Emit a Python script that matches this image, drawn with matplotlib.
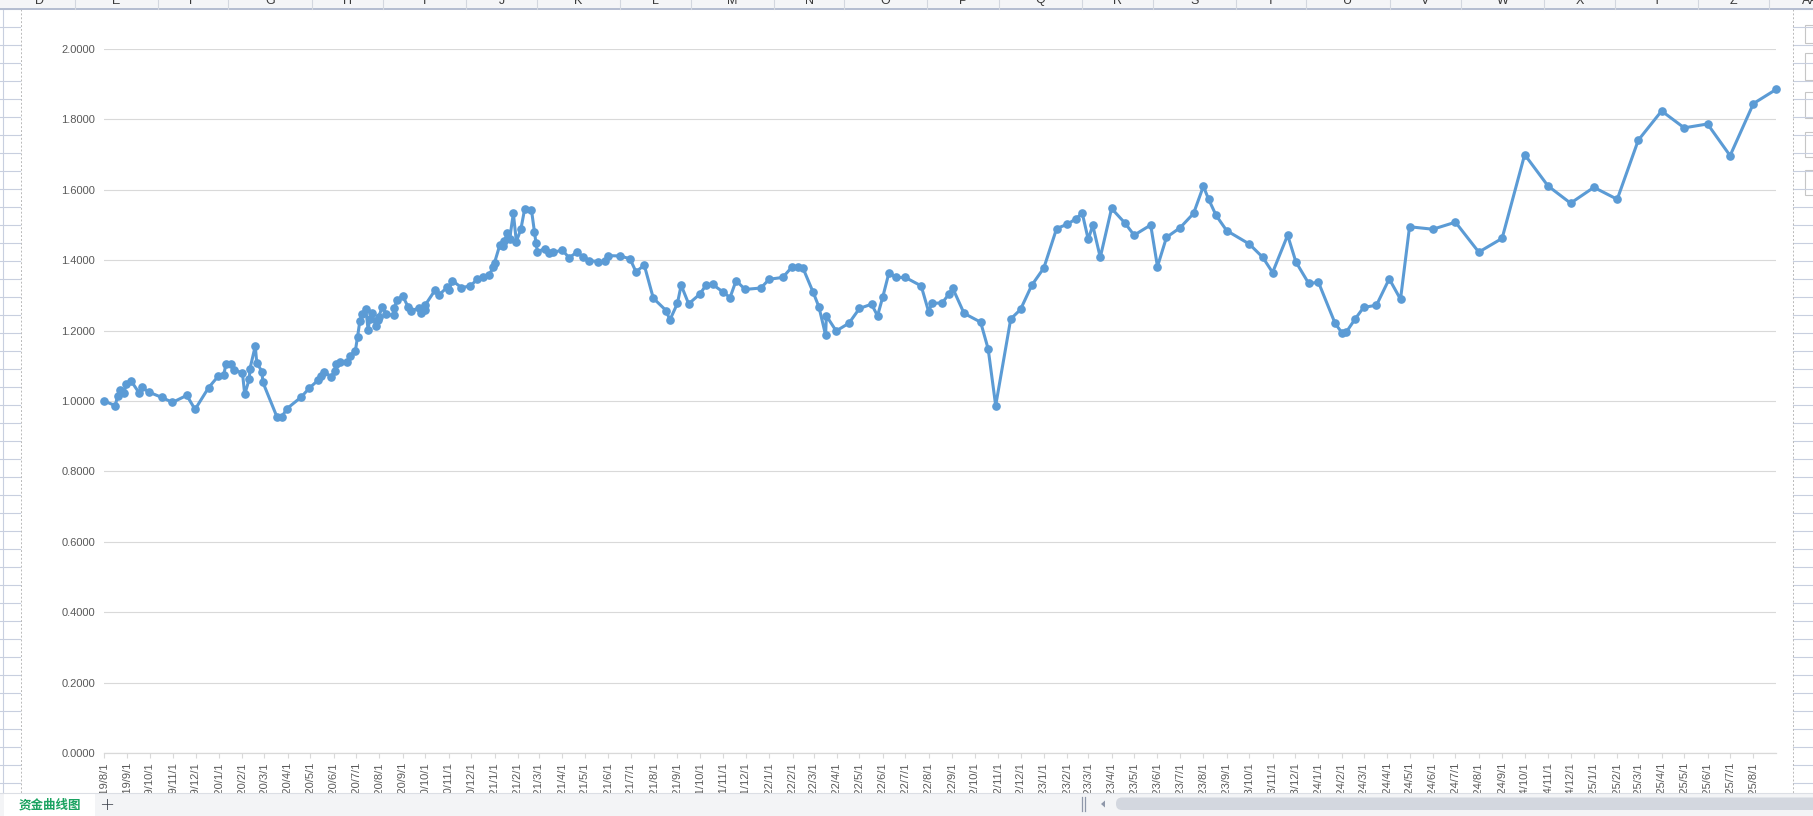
"""
Equity curve (资金曲线图) as it shows up embedded in the spreadsheet view
"""

import matplotlib

matplotlib.use("Agg")
import matplotlib.pyplot as plt
import matplotlib.dates as mdates
from matplotlib.patches import Rectangle, FancyBboxPatch
from matplotlib.ticker import FuncFormatter
import pandas as pd

FIG_W, FIG_H = 1813, 816

# x values are days after the first trading date
START_DATE = "2019-08-01"
LAST_TICK = "2025-08-01"

day_offsets = [
    0, 15, 18, 21, 27, 29, 36, 47, 50, 60, 77, 91, 110, 121, 139, 152, 159, 162, 169, 173,
    184, 187, 193, 194, 201, 203, 210, 211, 230, 236, 243, 262, 273, 285, 289, 292, 302, 307, 308, 314,
    323, 327, 334, 337, 340, 343, 348, 351, 353, 356, 361, 364, 365, 370, 375, 385, 386, 389, 397, 404,
    408, 418, 421, 426, 427, 440, 445, 456, 458, 463, 475, 487, 496, 504, 512, 517, 519, 526, 530, 532,
    536, 539, 544, 548, 554, 559, 568, 572, 574, 576, 586, 592, 597, 609, 618, 628, 637, 645, 657, 666,
    670, 686, 699, 707, 718, 730, 747, 752, 762, 767, 777, 792, 800, 809, 823, 832, 840, 852, 873, 884,
    902, 914, 922, 929, 942, 950, 959, 960, 973, 990, 1004, 1020, 1028, 1035, 1043, 1053, 1065, 1086, 1096, 1100,
    1114, 1123, 1128, 1143, 1165, 1175, 1185, 1205, 1218, 1233, 1249, 1266, 1280, 1292, 1300, 1308, 1314, 1324, 1339, 1357,
    1369, 1391, 1400, 1412, 1430, 1448, 1461, 1468, 1478, 1492, 1522, 1540, 1553, 1573, 1584, 1601, 1614, 1636, 1645, 1651,
    1663, 1674, 1691, 1708, 1723, 1735, 1766, 1796, 1827, 1858, 1888, 1919, 1949, 1980, 2011, 2039, 2070, 2100, 2131, 2161,
    2192, 2222,
]

nav_values = [
    1.000, 0.987, 1.014, 1.031, 1.024, 1.047, 1.057, 1.022, 1.039, 1.025, 1.010, 0.996, 1.016, 0.976, 1.038, 1.071, 1.073, 1.104, 1.105, 1.088,
    1.080, 1.019, 1.062, 1.092, 1.156, 1.109, 1.083, 1.054, 0.954, 0.954, 0.978, 1.011, 1.037, 1.060, 1.071, 1.083, 1.069, 1.086, 1.105, 1.110,
    1.110, 1.128, 1.142, 1.183, 1.227, 1.247, 1.260, 1.202, 1.232, 1.250, 1.214, 1.230, 1.239, 1.268, 1.247, 1.243, 1.263, 1.287, 1.298, 1.268,
    1.257, 1.263, 1.250, 1.259, 1.273, 1.315, 1.301, 1.323, 1.315, 1.342, 1.322, 1.327, 1.346, 1.351, 1.358, 1.380, 1.393, 1.443, 1.440, 1.455,
    1.476, 1.459, 1.533, 1.453, 1.488, 1.545, 1.544, 1.481, 1.450, 1.424, 1.433, 1.420, 1.422, 1.429, 1.407, 1.422, 1.410, 1.399, 1.396, 1.397,
    1.413, 1.412, 1.404, 1.367, 1.386, 1.292, 1.257, 1.230, 1.277, 1.329, 1.276, 1.304, 1.329, 1.331, 1.309, 1.294, 1.342, 1.317, 1.321, 1.346,
    1.351, 1.380, 1.380, 1.377, 1.311, 1.268, 1.187, 1.242, 1.199, 1.221, 1.263, 1.275, 1.242, 1.296, 1.363, 1.351, 1.351, 1.327, 1.253, 1.277,
    1.279, 1.304, 1.320, 1.249, 1.224, 1.148, 0.987, 1.233, 1.260, 1.329, 1.378, 1.490, 1.502, 1.518, 1.534, 1.459, 1.499, 1.408, 1.547, 1.505,
    1.471, 1.500, 1.382, 1.465, 1.492, 1.533, 1.610, 1.573, 1.527, 1.484, 1.446, 1.408, 1.365, 1.471, 1.395, 1.334, 1.337, 1.221, 1.194, 1.196,
    1.234, 1.266, 1.272, 1.347, 1.289, 1.495, 1.488, 1.508, 1.423, 1.462, 1.700, 1.611, 1.562, 1.607, 1.573, 1.741, 1.824, 1.776, 1.787, 1.697,
    1.845, 1.885,
]

y_ticks = [0.0, 0.2, 0.4, 0.6, 0.8, 1.0, 1.2, 1.4, 1.6, 1.8, 2.0]

sheet_name = "资金曲线图"
column_letters = ["D", "E", "F", "G", "H", "I", "J", "K", "L", "M", "N", "O",
                  "P", "Q", "R", "S", "T", "U", "V", "W", "X", "Y", "Z", "AA"]
# pixel edges of the spreadsheet columns (one more than letters)
column_edges = [3, 75, 158, 228, 312, 383, 466, 537, 620, 691, 774, 844, 927,
                999, 1082, 1153, 1236, 1306, 1390, 1461, 1544, 1615, 1698, 1769, 1852]

LINE_COLOR = "#5b9bd5"
GRID_COLOR = "#d9d9d9"
LABEL_COLOR = "#595959"
SHEET_LINE = "#c8cfdf"

plt.rcParams["font.family"] = ["Liberation Sans", "DejaVu Sans"]


def pixel_axes(fig, zorder):
    """Axes spanning the whole figure, in pixel coordinates (y down)"""
    pax = fig.add_axes([0, 0, 1, 1], zorder=zorder)
    pax.set_xlim(0, FIG_W)
    pax.set_ylim(FIG_H, 0)
    pax.axis("off")
    return pax


def draw_sheet_background(fig):
    """Cell grid around the chart object and the white chart area"""
    bg = pixel_axes(fig, -5)
    row_y = 9
    while row_y < 793:
        bg.plot([0, 20], [row_y, row_y], color=SHEET_LINE, lw=0.8)
        bg.plot([1793, FIG_W], [row_y, row_y], color=SHEET_LINE, lw=0.8)
        row_y += 18
    bg.plot([3, 3], [9, 793], color=SHEET_LINE, lw=0.8)
    bg.plot([20.5, 20.5], [9, 793], color="#b9b9b9", lw=0.7, ls=(0, (2, 2)))
    bg.plot([1793, 1793], [9, 793], color="#b9b9b9", lw=0.7, ls=(0, (2, 2)))
    bg.add_patch(Rectangle((21, 9), 1771, 784, facecolor="white", edgecolor="none"))

    # little chart buttons on the right edge
    for top, bottom in [(25, 43), (53, 80), (92, 118), (132, 157), (170, 195)]:
        bg.add_patch(Rectangle((1805, top), 20, bottom - top, facecolor="white",
                               edgecolor="#c6c6c6", lw=0.8))


def draw_sheet_chrome(fig):
    """Column header on top, sheet tabs and scrollbar at the bottom"""
    fg = pixel_axes(fig, 10)

    # column header
    fg.add_patch(Rectangle((0, 0), FIG_W, 9, facecolor="#f4f5f7", edgecolor="none"))
    fg.plot([0, FIG_W], [9, 9], color="#b4bdd0", lw=1.4)
    for i, letter in enumerate(column_letters):
        left, right = column_edges[i], column_edges[i + 1]
        fg.plot([right, right], [0, 9], color="#d3d7df", lw=0.8)
        fg.text((left + right) / 2, 0.5, letter, ha="center", va="center",
                fontsize=9, color="#3a3a3a")

    # sheet tab bar
    fg.add_patch(Rectangle((0, 793), FIG_W, FIG_H - 793, facecolor="#f3f4f6",
                           edgecolor="none"))
    fg.plot([0, FIG_W], [793, 793], color="#dcdfe5", lw=0.8)
    fg.add_patch(Rectangle((4, 793), 91, FIG_H - 793, facecolor="white", edgecolor="none"))
    fg.text(50, 805, sheet_name, ha="center", va="center", fontsize=9,
            color="#1aa260", weight="bold", family=["Noto Sans CJK SC", "DejaVu Sans"])
    fg.text(107, 804.5, "+", ha="center", va="center", fontsize=13,
            color="#3a3f4a", family=["DejaVu Sans"], weight="light")

    # horizontal scrollbar
    fg.plot([1082, 1082], [797, 811], color="#8f98aa", lw=0.9)
    fg.plot([1085, 1085], [797, 811], color="#8f98aa", lw=0.9)
    fg.add_patch(plt.Polygon([[1101, 804], [1105, 800.5], [1105, 807.5]],
                             closed=True, facecolor="#8f98aa", edgecolor="none"))
    fg.add_patch(FancyBboxPatch((1116, 797.5), 720, 12.5,
                                boxstyle="round,pad=0,rounding_size=6",
                                facecolor="#d3d7df", edgecolor="none"))


def date_label(value, _pos):
    """Excel style 2019/8/1 labels"""
    day = mdates.num2date(value)
    return f"{day.year}/{day.month}/{day.day}"


def draw_chart(fig):
    """The equity curve itself"""
    dates = pd.Timestamp(START_DATE) + pd.to_timedelta(day_offsets, unit="D")

    ax = fig.add_axes([104 / FIG_W, 1 - 753 / FIG_H,
                       (1776 - 104) / FIG_W, (753 - 49) / FIG_H])
    ax.set_facecolor("none")

    ax.plot(dates, nav_values, color=LINE_COLOR, lw=2.2, marker="o", ms=5.2,
            mfc=LINE_COLOR, mec=LINE_COLOR, solid_joinstyle="round",
            clip_on=False, zorder=3)

    ax.set_ylim(0, 2)
    ax.set_yticks(y_ticks)
    ax.yaxis.set_major_formatter(FuncFormatter(lambda v, _p: f"{v:.4f}"))
    ax.grid(axis="y", color=GRID_COLOR, lw=0.8)
    ax.set_axisbelow(True)

    month_ticks = pd.date_range(START_DATE, LAST_TICK, freq="MS")
    ax.set_xticks(month_ticks)
    ax.xaxis.set_major_formatter(FuncFormatter(date_label))
    ax.set_xlim(dates[0], dates[-1])

    for side in ["top", "right", "left"]:
        ax.spines[side].set_visible(False)
    ax.spines["bottom"].set_color(GRID_COLOR)
    ax.spines["bottom"].set_linewidth(0.9)

    ax.tick_params(axis="y", length=0, pad=6.5, labelsize=8, labelcolor=LABEL_COLOR)
    ax.tick_params(axis="x", length=3.5, width=0.8, color=GRID_COLOR, pad=3,
                   labelsize=8, labelcolor=LABEL_COLOR, labelrotation=90)
    return ax


def main():
    fig = plt.figure(figsize=(FIG_W / 100, FIG_H / 100), dpi=100)
    fig.patch.set_facecolor("white")
    draw_sheet_background(fig)
    draw_chart(fig)
    draw_sheet_chrome(fig)
    fig.savefig("out.png", dpi=100, facecolor="white")
    plt.close(fig)


if __name__ == "__main__":
    main()
